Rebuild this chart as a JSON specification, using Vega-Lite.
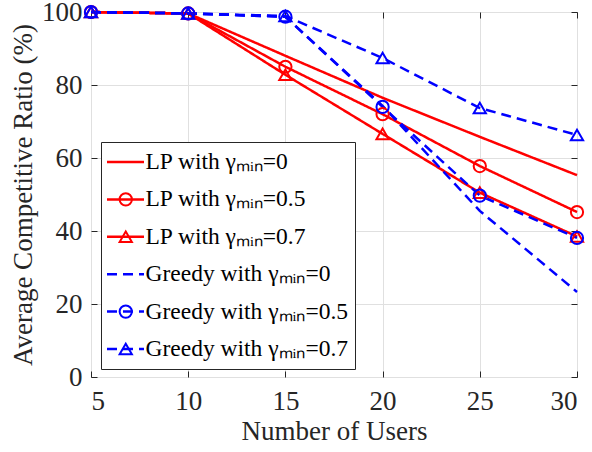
{
  "$schema": "https://vega.github.io/schema/vega-lite/v6.json",
  "width": 486,
  "height": 365,
  "autosize": {"type": "none"},
  "padding": {"left": 91, "top": 12, "right": 15, "bottom": 75},
  "background": "white",
  "config": {
    "font": "Liberation Serif",
    "view": {"stroke": "#262626", "strokeWidth": 1},
    "style": {
      "guide-label": {"font": "Liberation Serif"},
      "guide-title": {"font": "Liberation Serif"}
    },
    "axis": {
      "labelFont": "Liberation Serif",
      "titleFont": "Liberation Serif",
      "labelColor": "#262626",
      "titleColor": "#262626",
      "titleFontWeight": "normal",
      "tickColor": "#262626",
      "domainColor": "#262626",
      "gridColor": "#e0e0e0",
      "gridWidth": 1
    },
    "legend": {"labelFont": "Liberation Serif", "titleFont": "Liberation Serif"}
  },
  "data": {
    "values": [
      {"users": 5, "ratio": 100, "series": "LP with γₘᵢₙ=0"},
      {"users": 10, "ratio": 99.6, "series": "LP with γₘᵢₙ=0"},
      {"users": 15, "ratio": 88, "series": "LP with γₘᵢₙ=0"},
      {"users": 20, "ratio": 76.5, "series": "LP with γₘᵢₙ=0"},
      {"users": 25, "ratio": 65.8, "series": "LP with γₘᵢₙ=0"},
      {"users": 30, "ratio": 55.3, "series": "LP with γₘᵢₙ=0"},
      {"users": 5, "ratio": 100, "series": "LP with γₘᵢₙ=0.5"},
      {"users": 10, "ratio": 99.6, "series": "LP with γₘᵢₙ=0.5"},
      {"users": 15, "ratio": 85, "series": "LP with γₘᵢₙ=0.5"},
      {"users": 20, "ratio": 72, "series": "LP with γₘᵢₙ=0.5"},
      {"users": 25, "ratio": 57.8, "series": "LP with γₘᵢₙ=0.5"},
      {"users": 30, "ratio": 45.2, "series": "LP with γₘᵢₙ=0.5"},
      {"users": 5, "ratio": 100, "series": "LP with γₘᵢₙ=0.7"},
      {"users": 10, "ratio": 99.6, "series": "LP with γₘᵢₙ=0.7"},
      {"users": 15, "ratio": 82.8, "series": "LP with γₘᵢₙ=0.7"},
      {"users": 20, "ratio": 66.6, "series": "LP with γₘᵢₙ=0.7"},
      {"users": 25, "ratio": 50.5, "series": "LP with γₘᵢₙ=0.7"},
      {"users": 30, "ratio": 38.5, "series": "LP with γₘᵢₙ=0.7"},
      {"users": 5, "ratio": 100, "series": "Greedy with γₘᵢₙ=0"},
      {"users": 10, "ratio": 99.6, "series": "Greedy with γₘᵢₙ=0"},
      {"users": 15, "ratio": 98.7, "series": "Greedy with γₘᵢₙ=0"},
      {"users": 20, "ratio": 74.3, "series": "Greedy with γₘᵢₙ=0"},
      {"users": 25, "ratio": 45.5, "series": "Greedy with γₘᵢₙ=0"},
      {"users": 30, "ratio": 23.3, "series": "Greedy with γₘᵢₙ=0"},
      {"users": 5, "ratio": 100, "series": "Greedy with γₘᵢₙ=0.5"},
      {"users": 10, "ratio": 99.6, "series": "Greedy with γₘᵢₙ=0.5"},
      {"users": 15, "ratio": 98.7, "series": "Greedy with γₘᵢₙ=0.5"},
      {"users": 20, "ratio": 74, "series": "Greedy with γₘᵢₙ=0.5"},
      {"users": 25, "ratio": 49.7, "series": "Greedy with γₘᵢₙ=0.5"},
      {"users": 30, "ratio": 38.1, "series": "Greedy with γₘᵢₙ=0.5"},
      {"users": 5, "ratio": 100, "series": "Greedy with γₘᵢₙ=0.7"},
      {"users": 10, "ratio": 99.6, "series": "Greedy with γₘᵢₙ=0.7"},
      {"users": 15, "ratio": 98.9, "series": "Greedy with γₘᵢₙ=0.7"},
      {"users": 20, "ratio": 87.4, "series": "Greedy with γₘᵢₙ=0.7"},
      {"users": 25, "ratio": 73.7, "series": "Greedy with γₘᵢₙ=0.7"},
      {"users": 30, "ratio": 66.3, "series": "Greedy with γₘᵢₙ=0.7"}
    ]
  },
  "layer": [
    {
      "mark": {"type": "line", "strokeWidth": 2.5},
      "encoding": {
        "x": {
          "field": "users", "type": "quantitative",
          "scale": {"domain": [5, 30], "nice": false, "zero": false},
          "axis": {
            "orient": "bottom", "title": "Number of Users",
            "values": [5, 10, 15, 20, 25, 30],
            "labelFont": "Liberation Serif", "titleFont": "Liberation Serif",
            "labelFontSize": 27, "titleFontSize": 27,
            "tickSize": -6, "labelPadding": 17, "titlePadding": 4,
            "grid": true, "domain": false
          }
        },
        "y": {
          "field": "ratio", "type": "quantitative",
          "scale": {"domain": [0, 100], "nice": false},
          "axis": {
            "orient": "left", "title": "Average Competitive Ratio (%)",
            "values": [0, 20, 40, 60, 80, 100],
            "labelFont": "Liberation Serif", "titleFont": "Liberation Serif",
            "labelFontSize": 27, "titleFontSize": 27,
            "tickSize": -6, "labelPadding": 15, "titlePadding": 4,
            "grid": true, "domain": false
          }
        },
        "color": {
          "field": "series", "type": "nominal",
          "scale": {
            "domain": ["LP with γₘᵢₙ=0", "LP with γₘᵢₙ=0.5", "LP with γₘᵢₙ=0.7", "Greedy with γₘᵢₙ=0", "Greedy with γₘᵢₙ=0.5", "Greedy with γₘᵢₙ=0.7"],
            "range": ["#ff0000", "#ff0000", "#ff0000", "#0000ff", "#0000ff", "#0000ff"]
          },
          "legend": {
            "orient": "none", "legendX": 10, "legendY": 130, "title": null,
            "symbolType": "stroke", "symbolSize": 1369, "symbolStrokeWidth": 2.5, "symbolOffset": -1.5,
            "labelFont": "Liberation Serif", "labelFontSize": 23.5, "labelColor": "#000000", "labelLimit": 400,
            "labelOffset": 0, "rowPadding": 9.4, "padding": 6, "clipHeight": 28,
            "strokeColor": "#262626", "fillColor": "white"
          }
        },
        "strokeDash": {
          "field": "series", "type": "nominal",
          "scale": {
            "domain": ["LP with γₘᵢₙ=0", "LP with γₘᵢₙ=0.5", "LP with γₘᵢₙ=0.7", "Greedy with γₘᵢₙ=0", "Greedy with γₘᵢₙ=0.5", "Greedy with γₘᵢₙ=0.7"],
            "range": [[1, 0], [1, 0], [1, 0], [10, 6], [10, 6], [10, 6]]
          },
          "legend": {
            "orient": "none", "legendX": 10, "legendY": 130, "title": null,
            "symbolType": "stroke", "symbolSize": 1369, "symbolStrokeWidth": 2.5, "symbolOffset": -1.5,
            "labelFont": "Liberation Serif", "labelFontSize": 23.5, "labelColor": "#000000", "labelLimit": 400,
            "labelOffset": 0, "rowPadding": 9.4, "padding": 6, "clipHeight": 28,
            "strokeColor": "#262626", "fillColor": "white"
          }
        }
      }
    },
    {
      "mark": {"type": "point", "filled": false, "strokeWidth": 2, "size": 150, "opacity": 1},
      "encoding": {
        "x": {
          "field": "users", "type": "quantitative",
          "axis": {"orient": "top", "title": null, "labels": false, "values": [5, 10, 15, 20, 25, 30], "tickSize": -6, "grid": false, "domain": false}
        },
        "y": {
          "field": "ratio", "type": "quantitative",
          "axis": {"orient": "right", "title": null, "labels": false, "values": [0, 20, 40, 60, 80, 100], "tickSize": -6, "grid": false, "domain": false}
        },
        "color": {"field": "series", "type": "nominal"},
        "shape": {
          "field": "series", "type": "nominal",
          "scale": {
            "domain": ["Greedy with γₘᵢₙ=0", "Greedy with γₘᵢₙ=0.5", "Greedy with γₘᵢₙ=0.7", "LP with γₘᵢₙ=0", "LP with γₘᵢₙ=0.5", "LP with γₘᵢₙ=0.7"],
            "range": ["M0,0", "circle", "triangle-up", "M0,0", "circle", "triangle-up"]
          },
          "legend": {
            "orient": "none", "legendX": 17, "legendY": 130, "title": null,
            "values": ["LP with γₘᵢₙ=0", "LP with γₘᵢₙ=0.5", "LP with γₘᵢₙ=0.7", "Greedy with γₘᵢₙ=0", "Greedy with γₘᵢₙ=0.5", "Greedy with γₘᵢₙ=0.7"],
            "symbolSize": 150, "symbolStrokeWidth": 2, "symbolFillColor": "transparent",
            "labelFont": "Liberation Serif", "labelFontSize": 23.5, "labelColor": "transparent", "labelLimit": 400,
            "labelOffset": 0, "rowPadding": 9.4, "padding": 6, "clipHeight": 28,
            "encoding": {
              "symbols": {
                "stroke": {"condition": {"test": "indexof(datum.value, 'Greedy') === 0", "value": "#0000ff"}, "value": "#ff0000"}
              }
            }
          }
        }
      }
    }
  ],
  "resolve": {"axis": {"x": "independent", "y": "independent"}}
}
